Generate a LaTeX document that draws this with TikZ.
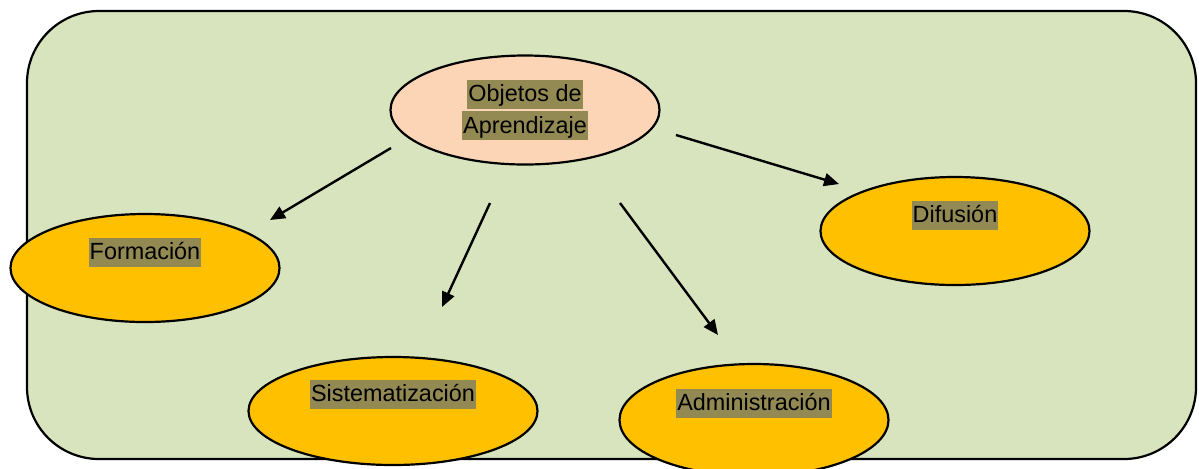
\documentclass[tikz,border=0pt]{standalone}
\usepackage{fontspec}
\setmainfont{Liberation Sans}
\usepackage{tikz}
\usetikzlibrary{shapes.geometric,arrows.meta}

\definecolor{panelgreen}{HTML}{D7E4BD}
\definecolor{peach}{HTML}{FBD5B5}
\definecolor{gold}{HTML}{FFC000}
\definecolor{hlolive}{HTML}{938953}

\newcommand{\hlbox}[1]{{\setlength{\fboxsep}{0pt}\colorbox{hlolive}{\rule[-3.5pt]{0pt}{14.5pt}\hspace{0.5pt}#1\hspace{0.5pt}}}}

\begin{document}
\begin{tikzpicture}[x=0.5pt, y=-0.5pt,
    every node/.style={font=\fontsize{11.7}{15.7}\selectfont},
    topic/.style={ellipse, draw, line width=1.1pt, fill=gold, inner sep=0pt,
      minimum width=134.5pt, minimum height=54pt},
    arr/.style={-{Triangle[length=7.5pt, width=6.5pt]}, line width=1.2pt}]
    \useasboundingbox (0, 0) rectangle (1199, 468);
    \clip (0, 0) rectangle (1199, 468);

    \draw [line width=1.1pt, fill=panelgreen, rounded corners=36pt] (27, 11) rectangle (1196, 459);

    \node [ellipse, draw, line width=1.1pt, fill=peach, inner sep=0pt,
      minimum width=134.5pt, minimum height=54.5pt, align=center] (obj) at (525, 110)
      {\hlbox{Objetos de}\\\hlbox{Aprendizaje}};

    \node [topic, label={[yshift=8pt]center:\hlbox{Formación}}] (form) at (145, 268) {};
    \node [topic, minimum width=144.5pt, label={[yshift=8.5pt]center:\hlbox{Sistematización}}] (sist) at (393, 411) {};
    \node [topic, minimum height=56pt, label={[yshift=8.5pt]center:\hlbox{Administración}}] (admin) at (754, 420) {};
    \node [topic, label={[yshift=8pt]center:\hlbox{Difusión}}] (dif) at (955, 231) {};

    \coordinate (a1) at (391, 148);
    \coordinate (b1) at (270, 220);
    \coordinate (a2) at (490, 203);
    \coordinate (b2) at (442, 307);
    \coordinate (a3) at (620, 203);
    \coordinate (b3) at (718, 335);
    \coordinate (a4) at (676, 135);
    \coordinate (b4) at (839, 184);

    \draw [arr] (a1) -- (b1);
    \draw [arr] (a2) -- (b2);
    \draw [arr] (a3) -- (b3);
    \draw [arr] (a4) -- (b4);
\end{tikzpicture}
\end{document}
